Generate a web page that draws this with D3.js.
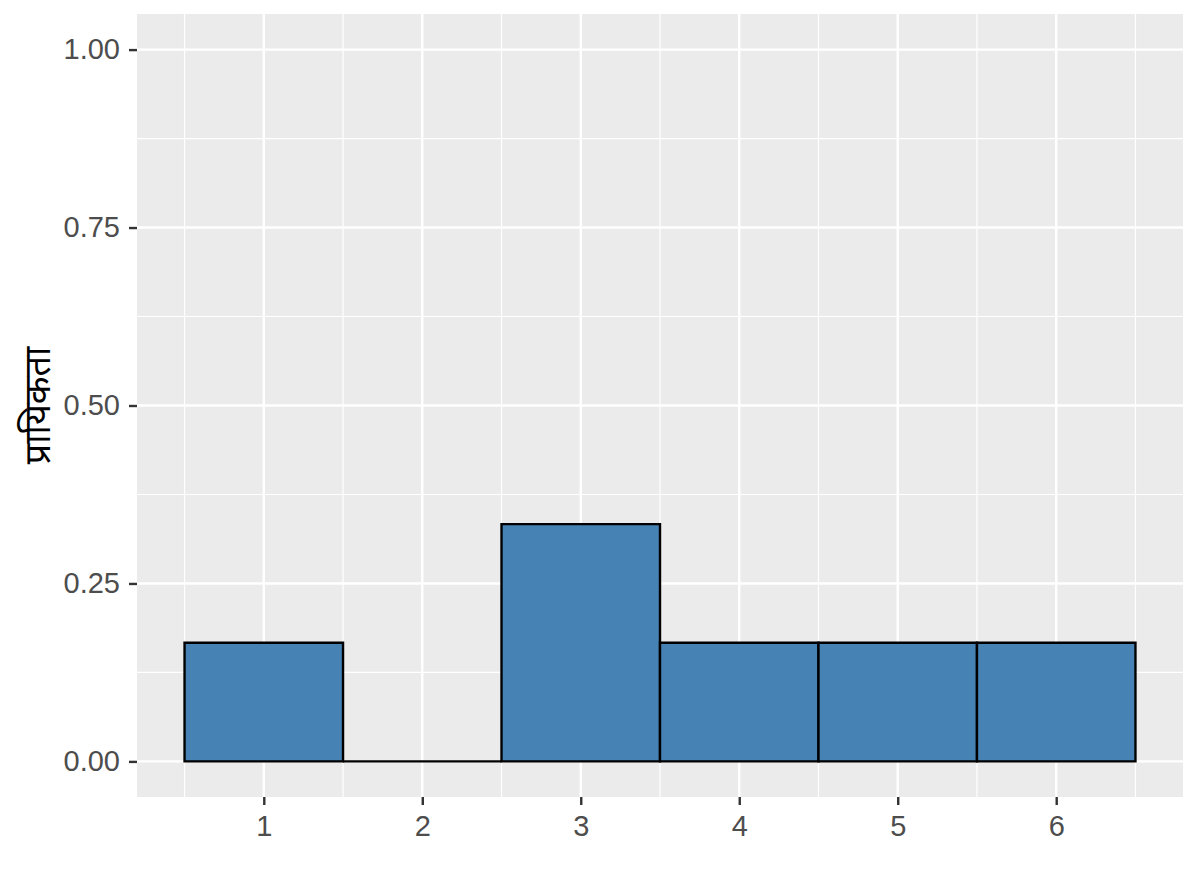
<!DOCTYPE html>
<html>
<head>
<meta charset="utf-8">
<script src="https://cdn.jsdelivr.net/npm/d3@7"></script>
<style>
  body { margin: 0; background: #fff; }
  svg text { font-family: "Liberation Sans", Arial, sans-serif; }
</style>
</head>
<body>
<div id="chart"></div>
<script>
// Die outcomes and their probabilities (6 rolls)
const outcomes = [1, 2, 3, 4, 5, 6];
const probabilities = [1 / 6, 0, 2 / 6, 1 / 6, 1 / 6, 1 / 6];
const yTicks = [0, 0.25, 0.5, 0.75, 1];
const yMinor = [0.125, 0.375, 0.625, 0.875];
const xMinor = [0.5, 1.5, 2.5, 3.5, 4.5, 5.5, 6.5];
const yLabel = "प्रायिकता";

const width = 1200, height = 896;
const margin = { top: 14, right: 17, bottom: 99, left: 137 };

const svg = d3.select("#chart").append("svg")
    .attr("width", width)
    .attr("height", height);

// ggplot-like 5% expansion on both axes
const x = d3.scaleLinear()
    .domain([0.5 - 0.3, 6.5 + 0.3])
    .range([margin.left, width - margin.right]);

const y = d3.scaleLinear()
    .domain([-0.05, 1.05])
    .range([height - margin.bottom, margin.top]);

// Panel background
svg.append("rect")
    .attr("x", margin.left)
    .attr("y", margin.top)
    .attr("width", width - margin.left - margin.right)
    .attr("height", height - margin.top - margin.bottom)
    .attr("fill", "#ebebeb");

const grid = svg.append("g");

// Minor grid
grid.selectAll(".ymin").data(yMinor).enter().append("line")
    .attr("x1", margin.left).attr("x2", width - margin.right)
    .attr("y1", d => y(d)).attr("y2", d => y(d))
    .attr("stroke", "#fff").attr("stroke-width", 1.2);
grid.selectAll(".xmin").data(xMinor).enter().append("line")
    .attr("y1", margin.top).attr("y2", height - margin.bottom)
    .attr("x1", d => x(d)).attr("x2", d => x(d))
    .attr("stroke", "#fff").attr("stroke-width", 1.2);

// Major grid
grid.selectAll(".ymaj").data(yTicks).enter().append("line")
    .attr("x1", margin.left).attr("x2", width - margin.right)
    .attr("y1", d => y(d)).attr("y2", d => y(d))
    .attr("stroke", "#fff").attr("stroke-width", 2.4);
grid.selectAll(".xmaj").data(outcomes).enter().append("line")
    .attr("y1", margin.top).attr("y2", height - margin.bottom)
    .attr("x1", d => x(d)).attr("x2", d => x(d))
    .attr("stroke", "#fff").attr("stroke-width", 2.4);

// Bars (paths so a zero-height bar still shows its outline)
const data = outcomes.map((o, i) => ({ outcome: o, p: probabilities[i] }));
svg.selectAll(".bar").data(data).enter().append("path")
    .attr("class", "bar")
    .attr("d", d => {
        const x0 = x(d.outcome - 0.5), x1 = x(d.outcome + 0.5);
        const y0 = y(0), y1 = y(d.p);
        return `M${x0},${y0}V${y1}H${x1}V${y0}Z`;
    })
    .attr("fill", "#4682b4")
    .attr("stroke", "#000")
    .attr("stroke-width", 2.4)
    .attr("stroke-linejoin", "miter");

// Axes
const yAxis = d3.axisLeft(y)
    .tickValues(yTicks)
    .tickFormat(d3.format(".2f"))
    .tickSize(8)
    .tickPadding(9);

svg.append("g")
    .attr("transform", `translate(${margin.left},0)`)
    .call(yAxis)
    .call(g => g.select(".domain").remove())
    .call(g => g.selectAll(".tick line").attr("stroke", "#333").attr("stroke-width", 2.4))
    .call(g => g.selectAll(".tick text").attr("fill", "#4d4d4d").attr("font-size", 29));

const xAxis = d3.axisBottom(x)
    .tickValues(outcomes)
    .tickFormat(d3.format("d"))
    .tickSize(8)
    .tickPadding(10);

svg.append("g")
    .attr("transform", `translate(0,${height - margin.bottom})`)
    .call(xAxis)
    .call(g => g.select(".domain").remove())
    .call(g => g.selectAll(".tick line").attr("stroke", "#333").attr("stroke-width", 2.4))
    .call(g => g.selectAll(".tick text").attr("fill", "#4d4d4d").attr("font-size", 29));

// Y axis title
svg.append("text")
    .attr("transform", `translate(50,${(margin.top + height - margin.bottom) / 2}) rotate(-90)`)
    .attr("text-anchor", "middle")
    .attr("font-size", 36)
    .attr("fill", "#000")
    .style("font-family", "'Noto Sans', 'Noto Sans Devanagari', sans-serif")
    .text(yLabel);
</script>
</body>
</html>
